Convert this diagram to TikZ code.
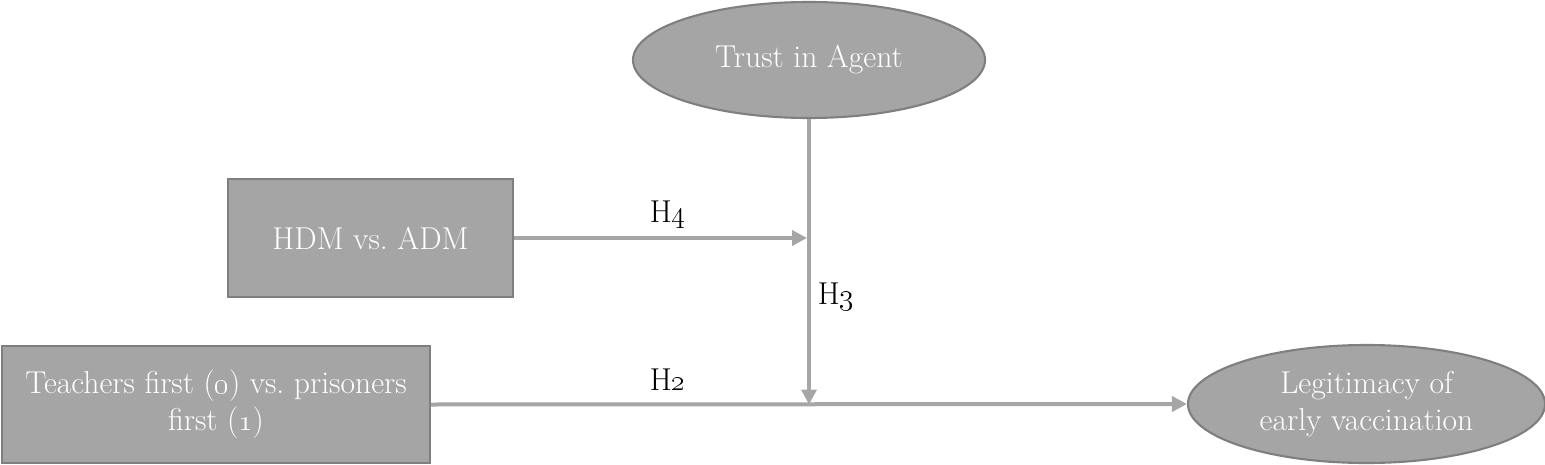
\documentclass[tikz,border=0pt]{standalone}
\usetikzlibrary{arrows.meta,shapes.geometric}
\definecolor{boxgray}{HTML}{A5A5A5}
\definecolor{edgegray}{HTML}{7F7F7F}
\definecolor{linegray}{HTML}{A6A6A6}
\begin{document}
\begin{tikzpicture}[
		varbox/.style={draw=edgegray,line width=1.2pt,fill=boxgray,text=white,
			align=center,font=\fontsize{18}{21}\selectfont,inner sep=0pt},
		varoval/.style={varbox,ellipse},
		path/.style={draw=linegray,line width=0.08cm,
			-{Triangle[length=0.3cm,width=0.3cm]}},
		hyp/.style={font=\fontsize{18}{21}\selectfont,inner sep=2pt}]
	\useasboundingbox (0,0) rectangle (30.9,-9.3);
	% variables
	\node[varoval,minimum width=7.04cm,minimum height=2.32cm](trust)
	at (16.18,-1.2) {Trust in Agent};
	\node[varbox,minimum width=5.7cm,minimum height=2.36cm](hdm)
	at (7.41,-4.76) {HDM vs.\ ADM};
	\node[varbox,minimum width=8.56cm,minimum height=2.34cm](order)
	at (4.32,-8.09) {Teachers first (\oldstylenums{0}) vs.\ prisoners\\first (\oldstylenums{1})};
	\node[varoval,minimum width=7.14cm,minimum height=2.36cm](legit)
	at (27.33,-8.08) {Legitimacy of\\early vaccination};
	% meeting points on the paths
	\coordinate (modtop) at (trust.south |- hdm.east);
	\coordinate (modbot) at (trust.south |- order.east);
	% paths
	\draw[path] (order.east) -- (legit.west);
	\draw[path] (trust.south) -- (modbot);
	\draw[path,shorten >=0.04cm] (hdm.east) -- (modtop);
	% hypotheses
	\node[hyp](h4) at (13.36,-4.3) {H\oldstylenums{4}};
	\node[hyp](h3) at (16.72,-5.94) {H\oldstylenums{3}};
	\node[hyp](h2) at (13.36,-7.6) {H\oldstylenums{2}};
\end{tikzpicture}
\end{document}
